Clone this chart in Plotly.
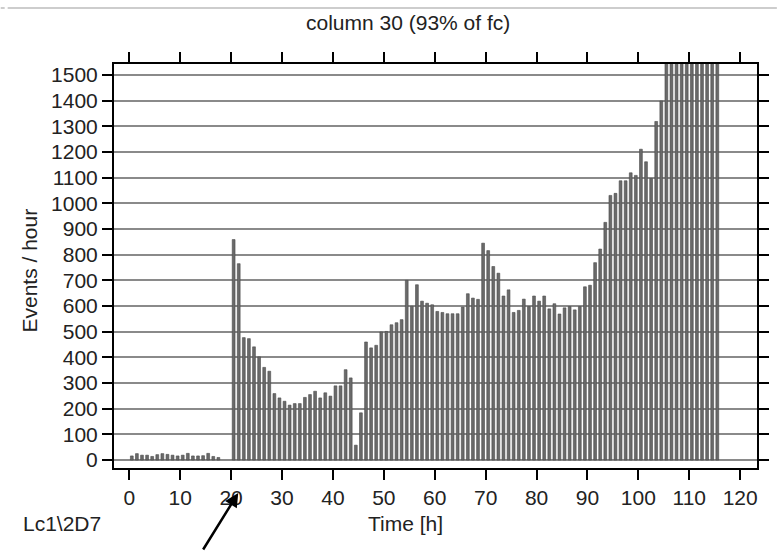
import plotly.graph_objects as go

# Hourly event counts, bars centred on each half hour
hours = [h + 0.5 for h in range(0, 116)]

early_counts = [16, 25, 19, 19, 14, 21, 25, 22, 19, 16, 19, 26, 16, 16, 17, 26, 14, 10]
gap_counts = [None, None]
main_counts = [
    859, 765, 477, 473, 441, 402, 361, 346, 259, 242,   # 20.5 - 29.5
    229, 214, 220, 220, 244, 255, 268, 242, 262, 249,   # 30.5 - 39.5
    289, 289, 352, 320, 58, 184, 460, 437, 447, 499,    # 40.5 - 49.5
    501, 527, 535, 547, 700, 599, 683, 619, 611, 605,   # 50.5 - 59.5
    579, 575, 570, 570, 570, 596, 648, 631, 626, 845,   # 60.5 - 69.5
    816, 754, 728, 639, 663, 575, 583, 627, 598, 639,   # 70.5 - 79.5
    619, 639, 589, 609, 569, 593, 598, 585, 598, 675,   # 80.5 - 89.5
    681, 769, 822, 926, 1031, 1039, 1088, 1088, 1119, 1109,  # 90.5 - 99.5
    1211, 1162, 1097, 1319, 1399,                        # 100.5 - 104.5
]
# counts past the top of the scale (off-chart)
saturated_counts = [1600] * 11                          # 105.5 - 115.5

events = early_counts + gap_counts + main_counts + saturated_counts

x_ticks = list(range(0, 121, 10))
y_ticks = list(range(0, 1501, 100))

FONT = "Liberation Sans, Arial, Helvetica, sans-serif"

fig = go.Figure()
fig.add_trace(go.Bar(
    x=hours,
    y=events,
    width=0.55,
    marker=dict(color="#6a6a6a", line=dict(color="#4a4a4a", width=0.6)),
    showlegend=False,
))

# plot box: x 114..761 px, y 64..468 px
L, R, T, B = 114, 20, 64, 83
W, H = 781, 551
pw, ph = W - L - R, H - T - B


def px(x):
    return (x - L) / pw


def py(y):
    return (H - B - y) / ph


axis_common = dict(
    showline=True, linecolor="black", linewidth=2,
    mirror="ticks", ticks="outside", ticklen=10, tickwidth=2, tickcolor="black",
    tickfont=dict(family=FONT, size=21, color="#222222"),
    zeroline=False,
)

fig.update_layout(
    width=W, height=H,
    margin=dict(l=L, r=R, t=T, b=B, pad=0),
    paper_bgcolor="white", plot_bgcolor="white",
    font=dict(family=FONT, size=21, color="#222222"),
    xaxis=dict(range=[-3.0, 123.3], tickvals=x_ticks, showgrid=False, **axis_common),
    yaxis=dict(range=[-31, 1543], tickvals=y_ticks, showgrid=True,
               gridcolor="#8a8a8a", gridwidth=1.5, **axis_common),
    annotations=[
        dict(text="column 30 (93% of fc)", x=px(409.6), y=py(23), xref="paper", yref="paper",
             xanchor="center", yanchor="middle", showarrow=False,
             font=dict(family=FONT, size=21, color="#222222")),
        dict(text="Time [h]", x=px(407.5), y=py(523), xref="paper", yref="paper",
             xanchor="center", yanchor="middle", showarrow=False,
             font=dict(family=FONT, size=21, color="#222222")),
        dict(text="Events / hour", x=px(28), y=py(271), xref="paper", yref="paper",
             xanchor="center", yanchor="middle", textangle=-90, showarrow=False,
             font=dict(family=FONT, size=21, color="#222222")),
        dict(text="Lc1\\2D7", x=px(20), y=py(523), xref="paper", yref="paper",
             xanchor="left", yanchor="middle", showarrow=False,
             font=dict(family=FONT, size=21, color="#222222")),
        # pointer arrow aimed at the 20 h mark
        dict(text="", x=px(239), y=py(493), xref="paper", yref="paper",
             showarrow=True, ax=-36, ay=64, arrowhead=2, arrowsize=1.1,
             arrowwidth=2.5, arrowcolor="black", standoff=0),
    ],
    shapes=[
        dict(type="line", xref="paper", yref="paper", x0=px(7), x1=px(781),
             y0=py(8), y1=py(8), line=dict(color="#bdbdbd", width=1.5)),
        dict(type="line", xref="paper", yref="paper", x0=px(0), x1=px(4),
             y0=py(8), y1=py(8), line=dict(color="#bdbdbd", width=1.5)),
    ],
)

fig.write_html("out.html")
